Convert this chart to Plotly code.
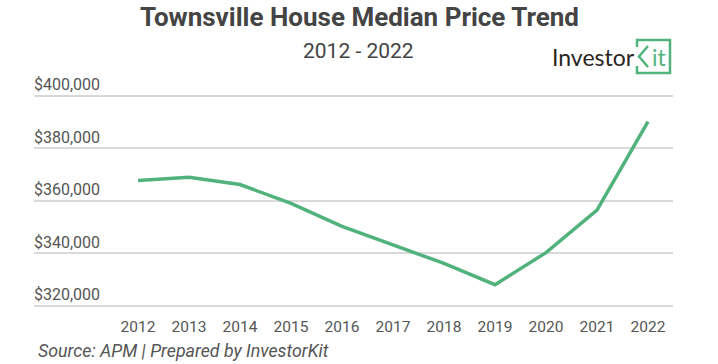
import plotly.graph_objects as go

years = [2012, 2013, 2014, 2015, 2016, 2017, 2018, 2019, 2020, 2021, 2022]
median_price = [367700, 369000, 366200, 359000, 350300, 343200, 336200, 328100, 340300, 356500, 390100]
y_ticks = [320000, 340000, 360000, 380000, 400000]
y_tick_labels = ["$320,000", "$340,000", "$360,000", "$380,000", "$400,000"]

title_text = "Townsville House Median Price Trend"
subtitle_text = "2012 - 2022"
source_text = "Source: APM | Prepared by InvestorKit"

W, H = 718, 364
ML, MR, MT, MB = 34, 45, 65, 55
PW = W - ML - MR
PH = H - MT - MB


def px(x):
    return (x - ML) / PW


def py(y):
    return (H - MB - y) / PH


GREEN = "#52b27d"
fig = go.Figure()
fig.add_trace(go.Scatter(
    x=years, y=median_price, mode="lines",
    line=dict(color=GREEN, width=3.5),
    hoverinfo="skip", showlegend=False,
))

fig.update_layout(
    width=W, height=H,
    margin=dict(l=ML, r=MR, t=MT, b=MB, pad=0),
    paper_bgcolor="white", plot_bgcolor="white",
    font=dict(family="Roboto", color="#555555"),
    xaxis=dict(
        range=[2009.96, 2022.49], tickmode="array", tickvals=years,
        ticktext=[str(y) for y in years], showgrid=False, zeroline=False,
        showline=False, ticks="", tickfont=dict(size=15.5, color="#555555"),
        ticklabelstandoff=6, fixedrange=True,
    ),
    yaxis=dict(
        range=[318860, 411680], tickmode="array", tickvals=y_ticks,
        ticktext=y_tick_labels, showgrid=True, gridcolor="#d9d9d9",
        gridwidth=2, zeroline=False, showline=False, ticks="",
        ticklabelposition="inside top", ticklabelstandoff=-3,
        tickfont=dict(size=16, color="#555555"), fixedrange=True,
    ),
)

annotations = [
    dict(text="<b>" + title_text + "</b>", x=px(359), y=py(17), xanchor="center",
         yanchor="middle", font=dict(size=26, color="#444444", family="Roboto")),
    dict(text=subtitle_text, x=px(358), y=py(51), xanchor="center", yanchor="middle",
         font=dict(size=21, color="#444444", family="Roboto")),
    dict(text="<i>" + source_text + "</i>", x=px(36), y=py(350), xanchor="left",
         yanchor="middle", font=dict(size=17.8, color="#555555", family="Roboto")),
    dict(text="Investor", x=px(550), y=py(57), xanchor="left", yanchor="middle",
         font=dict(size=23, color="#2b2523", family="Lato")),
    dict(text="it", x=px(650), y=py(57), xanchor="left", yanchor="middle",
         font=dict(size=23, color=GREEN, family="Lato")),
]
for a in annotations:
    a.update(xref="paper", yref="paper", showarrow=False)
fig.update_layout(annotations=annotations)

frame_path = "M {},{} L {},{} L {},{} L {},{} L {},{} L {},{}".format(
    px(637), py(47), px(637), py(40), px(670), py(40), px(670), py(73),
    px(637), py(73), px(637), py(66))
k_path = "M {},{} L {},{} L {},{}".format(
    px(648), py(46), px(639), py(56.5), px(648), py(67))
fig.add_shape(type="path", path=frame_path, xref="paper", yref="paper",
              line=dict(color=GREEN, width=2.5))
fig.add_shape(type="path", path=k_path, xref="paper", yref="paper",
              line=dict(color=GREEN, width=2.5))

fig.write_html("out.html", config={"displayModeBar": False},
               post_script="document.body.style.margin='0';document.body.style.overflow='hidden';")
